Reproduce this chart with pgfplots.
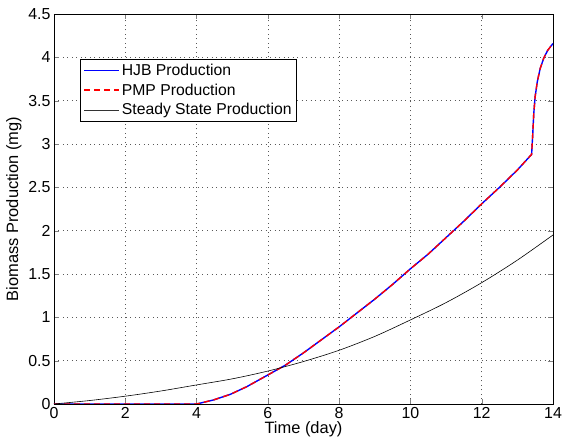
\documentclass[border=0pt]{standalone}
\usepackage{fontspec}
\setmainfont{Liberation Sans}
\usepackage{pgfplots}
\pgfplotsset{compat=1.18}
\begin{document}
\begin{tikzpicture}
\begin{axis}[
  scale only axis,
  width=499bp, height=390bp,
  xmin=0, xmax=14, ymin=0, ymax=4.5,
  xtick={0,2,...,14},
  ytick={0,0.5,...,4.5},
  yticklabels={0,0.5,1,1.5,2,2.5,3,3.5,4,4.5},
  tick align=inside,
  tick pos=both,
  major tick length=5bp,
  grid=major,
  major grid style={dash pattern=on 1bp off 3.5bp, black!65, line width=0.5pt},
  axis line style={line width=0.7pt},
  /pgf/number format/assume math mode=true,
  tick label style={font=\fontsize{16}{18}\selectfont},
  label style={font=\fontsize{16.5}{18}\selectfont},
  xlabel={Time (day)},
  ylabel={Biomass Production (mg)},
  xlabel style={yshift=4bp},
  legend style={at={(0.0521,0.8846)}, anchor=north west,
    font=\fontsize{15.8}{18}\selectfont, inner xsep=3bp, inner ysep=3bp, row sep=2.8bp, cells={anchor=west}},
  legend cell align=left,
  legend image code/.code={\draw[#1] (0bp,0bp) -- (35bp,0bp);},
]
\addlegendimage{blue, line width=1.7pt}
\addlegendentry{HJB Production}
\addlegendimage{red, line width=1.7pt, dash pattern=on 6bp off 4bp}
\addlegendentry{PMP Production}
\addlegendimage{black!80, line width=0.9pt}
\addlegendentry{Steady State Production}
\addplot[blue, line width=1.4pt, forget plot] coordinates {
(0,0) (4,0) (4.47,0.046) (4.94,0.11) (5.41,0.20) (6,0.335) (6.5,0.45)
(7,0.59) (7.5,0.74) (8,0.89) (8.5,1.05) (9,1.21) (9.5,1.38) (10,1.56)
(10.5,1.73) (11,1.92) (11.5,2.11) (12,2.31) (12.5,2.50) (13,2.70) (13.4,2.88)
(13.43,3.10) (13.46,3.35) (13.50,3.55) (13.56,3.72) (13.64,3.87) (13.74,3.99)
(13.85,4.08) (14,4.16)
};
\addplot[red, line width=1.4pt, dash pattern=on 6bp off 4bp, forget plot] coordinates {
(0,0) (4,0) (4.47,0.046) (4.94,0.11) (5.41,0.20) (6,0.335) (6.5,0.45)
(7,0.59) (7.5,0.74) (8,0.89) (8.5,1.05) (9,1.21) (9.5,1.38) (10,1.56)
(10.5,1.73) (11,1.92) (11.5,2.11) (12,2.31) (12.5,2.50) (13,2.70) (13.4,2.88)
(13.43,3.10) (13.46,3.35) (13.50,3.55) (13.56,3.72) (13.64,3.87) (13.74,3.99)
(13.85,4.08) (14,4.16)
};
\addplot[black, line width=0.6pt, smooth, forget plot] coordinates {
(0,0) (1,0.04) (2,0.09) (3,0.15) (4,0.22) (5,0.29) (6,0.38) (7,0.49)
(8,0.62) (9,0.78) (10,0.97) (11,1.17) (12,1.40) (13,1.66) (14,1.95)
};
\end{axis}
\pgfresetboundingbox
\path[use as bounding box] ([shift={(-54bp,-38bp)}]current axis.south west) rectangle ([shift={(9bp,14bp)}]current axis.north east);
\end{tikzpicture}
\end{document}
